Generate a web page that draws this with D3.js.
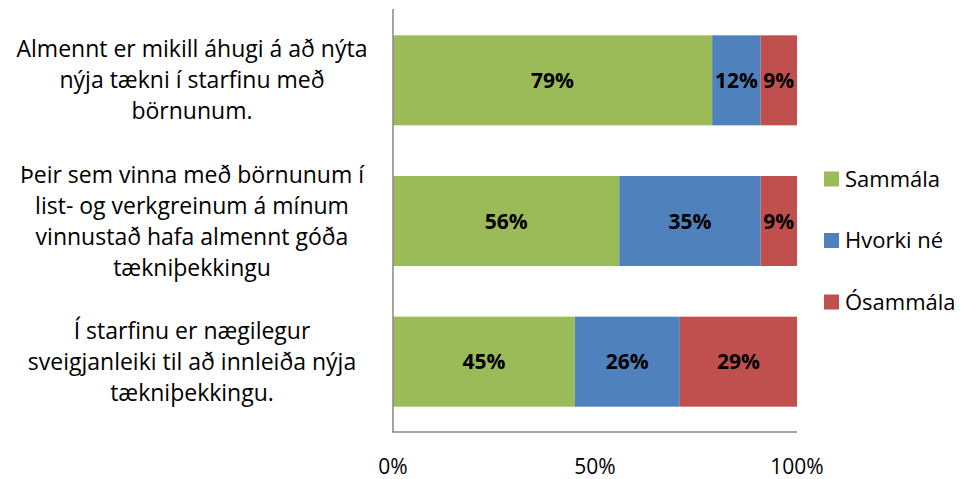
<!DOCTYPE html>
<html>
<head>
<meta charset="utf-8">
<script src="https://cdn.jsdelivr.net/npm/d3@7"></script>
<style>
  body { margin: 0; background: #fff; }
  svg { display: block; font-family: "Open Sans", Lato, sans-serif; }
</style>
</head>
<body>
<svg id="chart" width="962" height="479"></svg>
<script>
// Data
const categories = [
  ["Almennt er mikill áhugi á að nýta", "nýja tækni í starfinu með", "börnunum."],
  ["Þeir sem vinna með börnunum í", "list- og verkgreinum á mínum", "vinnustað hafa almennt góða", "tækniþekkingu"],
  ["Í starfinu er nægilegur", "sveigjanleiki til að innleiða nýja", "tækniþekkingu."]
];
const seriesNames = ["Sammála", "Hvorki né", "Ósammála"];
const sammala = [79, 56, 45];
const hvorki = [12, 35, 26];
const osammala = [9, 9, 29];
const tickValues = [0, 50, 100];
const colors = ["#9BBB59", "#4F81BD", "#C0504D"];

const svg = d3.select("#chart");
const x = d3.scaleLinear().domain([0, 100]).range([393, 797]);
const y = d3.scaleBand().domain(d3.range(categories.length)).range([10, 432])
  .paddingInner(0.36).paddingOuter(0.18);

const rows = categories.map((c, i) => ({ i, values: [sammala[i], hvorki[i], osammala[i]] }));
const stack = d3.stack().keys([0, 1, 2]).value((d, k) => d.values[k]);
const layers = stack(rows);

// bars
const g = svg.append("g");
layers.forEach((layer, k) => {
  g.selectAll(null).data(layer).enter().append("rect")
    .attr("x", d => x(d[0]))
    .attr("y", d => y(d.data.i))
    .attr("width", d => x(d[1]) - x(d[0]))
    .attr("height", y.bandwidth())
    .attr("fill", colors[k]);
  g.selectAll(null).data(layer).enter().append("text")
    .attr("x", d => (x(d[0]) + x(d[1])) / 2)
    .attr("y", d => y(d.data.i) + y.bandwidth() / 2)
    .attr("dy", "0.36em")
    .attr("text-anchor", "middle")
    .attr("font-weight", "bold")
    .attr("font-size", 21)
    .attr("fill", "#000")
    .text(d => d.data.values[k] + "%");
});

// axes lines
svg.append("line").attr("x1", 393).attr("x2", 393).attr("y1", 9).attr("y2", 432)
  .attr("stroke", "#868686").attr("stroke-width", 1.5);
svg.append("line").attr("x1", 392).attr("x2", 797).attr("y1", 432).attr("y2", 432)
  .attr("stroke", "#868686").attr("stroke-width", 1.5);

// x tick labels
svg.selectAll(".xt").data(tickValues).enter().append("text")
  .attr("x", d => x(d))
  .attr("y", 474)
  .attr("text-anchor", "middle")
  .attr("font-size", 21)
  .text(d => d + "%");

// category labels
const lineH = 31;
categories.forEach((lines, i) => {
  const cy = y(i) + y.bandwidth() / 2;
  const t = svg.append("text").attr("text-anchor", "middle").attr("font-size", 23);
  lines.forEach((ln, j) => {
    t.append("tspan").attr("x", 192)
      .attr("y", cy + (j - (lines.length - 1) / 2) * lineH + 8)
      .text(ln);
  });
});

// legend
const leg = svg.selectAll(".leg").data(seriesNames).enter().append("g")
  .attr("transform", (d, k) => `translate(824, ${179 + k * 61.5})`);
leg.append("rect").attr("x", 0).attr("y", -7.5).attr("width", 15).attr("height", 15)
  .attr("fill", (d, k) => colors[k]);
leg.append("text").attr("x", 21).attr("dy", "0.36em").attr("font-size", 22).text(d => d);
</script>
</body>
</html>
